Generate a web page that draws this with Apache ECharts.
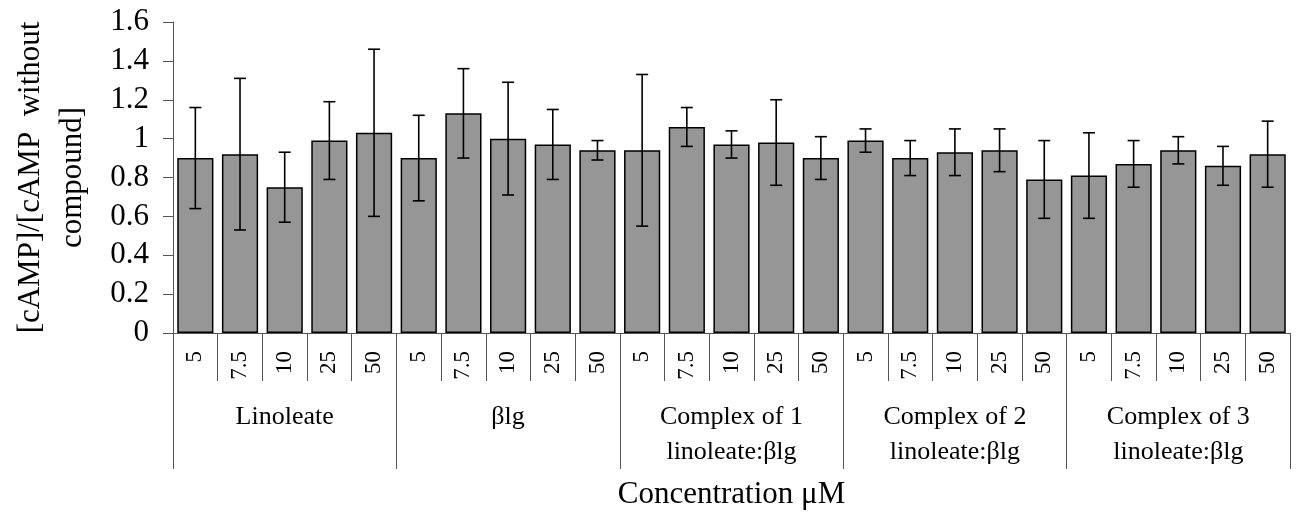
<!DOCTYPE html>
<html lang="en">
<head>
    <meta charset="UTF-8">
    <title>cAMP ratio by concentration</title>
    <script src="https://cdn.jsdelivr.net/npm/echarts@6/dist/echarts.min.js"></script>
</head>
<body style="margin:0">

<div id="main" style="width: 1300px;height:519px;"></div>

</body>
<script>
    // concentrations (uM), repeated for each compound
    var concentrations = ['5', '7.5', '10', '25', '50'];
    var groups = ['Linoleate', 'βlg', 'Complex of 1\nlinoleate:βlg', 'Complex of 2\nlinoleate:βlg', 'Complex of 3\nlinoleate:βlg'];

    // mean ratio per bar
    var values = [
        0.90, 0.92, 0.75, 0.99, 1.03,
        0.90, 1.13, 1.00, 0.97, 0.94,
        0.94, 1.06, 0.97, 0.98, 0.90,
        0.99, 0.90, 0.93, 0.94, 0.79,
        0.81, 0.87, 0.94, 0.86, 0.92
    ];
    // error bar half length
    var errors = [
        0.26, 0.39, 0.18, 0.20, 0.43,
        0.22, 0.23, 0.29, 0.18, 0.05,
        0.39, 0.10, 0.07, 0.22, 0.11,
        0.06, 0.09, 0.12, 0.11, 0.20,
        0.22, 0.12, 0.07, 0.10, 0.17
    ];

    var categories = [];
    groups.forEach(function () {
        concentrations.forEach(function (c) { categories.push(c); });
    });

    var errData = values.map(function (v, i) {
        return [i, v - errors[i], v + errors[i]];
    });

    var font = 'Liberation Serif';
    var mychart = echarts.init(document.getElementById('main'));

    var option = {
        animation: false,
        grid: {left: 173, right: 10, top: 22, bottom: 186, containLabel: false, outerBoundsMode: 'none'},
        xAxis: [
            {
                type: 'category',
                data: categories,
                axisLine: {lineStyle: {color: '#555', width: 1}},
                axisTick: {show: true, interval: 0, length: 48, lineStyle: {color: '#555'}},
                axisLabel: {
                    interval: 0, rotate: 90, margin: 18,
                    color: '#000', fontFamily: font, fontSize: 23
                }
            },
            {
                type: 'category',
                data: groups,
                position: 'bottom',
                axisLine: {show: false},
                axisTick: {show: true, interval: 0, length: 136, lineStyle: {color: '#555'}},
                axisLabel: {
                    interval: 0, margin: 67, color: '#000', fontFamily: font,
                    fontSize: 26, lineHeight: 35
                },
                name: 'Concentration μM',
                nameLocation: 'middle',
                nameGap: 146,
                nameTextStyle: {color: '#000', fontFamily: font, fontSize: 31}
            }
        ],
        yAxis: {
            type: 'value',
            min: 0,
            max: 1.6,
            interval: 0.2,
            splitLine: {show: false},
            axisLine: {show: true, lineStyle: {color: '#555'}},
            axisTick: {show: true, length: 10, lineStyle: {color: '#555'}},
            axisLabel: {margin: 24, color: '#000', fontFamily: font, fontSize: 31},
            name: '[cAMP]/[cAMP  without\ncompound]',
            nameLocation: 'middle',
            nameRotate: 90,
            nameGap: 79,
            nameTextStyle: {color: '#000', fontFamily: font, fontSize: 31, lineHeight: 42}
        },
        series: [
            {
                type: 'bar',
                data: values,
                barCategoryGap: '19%',
                itemStyle: {color: '#969696', borderColor: '#000', borderWidth: 1.5}
            },
            {
                type: 'custom',
                data: errData,
                z: 5,
                silent: true,
                renderItem: function (params, api) {
                    var lo = api.coord([api.value(0), api.value(1)]);
                    var hi = api.coord([api.value(0), api.value(2)]);
                    var hw = 6;
                    var st = {stroke: '#000', lineWidth: 1.6};
                    return {
                        type: 'group',
                        children: [
                            {type: 'line', shape: {x1: hi[0], y1: hi[1], x2: lo[0], y2: lo[1]}, style: st},
                            {type: 'line', shape: {x1: hi[0] - hw, y1: hi[1], x2: hi[0] + hw, y2: hi[1]}, style: st},
                            {type: 'line', shape: {x1: lo[0] - hw, y1: lo[1], x2: lo[0] + hw, y2: lo[1]}, style: st}
                        ]
                    };
                }
            }
        ]
    };

    mychart.setOption(option);
</script>
</html>
